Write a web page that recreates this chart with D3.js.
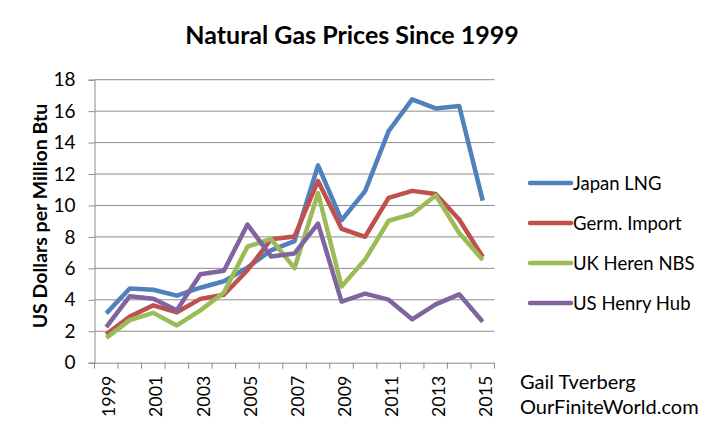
<!DOCTYPE html>
<html><head><meta charset="utf-8">
<script src="https://cdn.jsdelivr.net/npm/d3@7"></script>
<style>body{margin:0;background:#fff}svg{display:block}text{font-family:Lato,"Open Sans",sans-serif;fill:#000}</style>
</head><body><svg id="c" width="713" height="427"></svg>
<script>
const years = ["1999","2000","2001","2002","2003","2004","2005","2006","2007","2008","2009","2010","2011","2012","2013","2014","2015"];
const japanLNG = [3.14,4.72,4.64,4.27,4.77,5.18,6.05,7.14,7.73,12.55,9.06,10.91,14.73,16.75,16.17,16.33,10.31];
const germImport = [1.80,2.93,3.65,3.21,4.06,4.32,5.88,7.85,8.03,11.56,8.52,8.01,10.48,10.93,10.73,9.11,6.72];
const ukHeren = [1.58,2.71,3.17,2.37,3.33,4.46,7.38,7.87,6.01,10.79,4.85,6.56,9.03,9.46,10.64,8.25,6.53];
const usHenry = [2.27,4.23,4.07,3.33,5.63,5.85,8.79,6.76,6.95,8.85,3.89,4.39,4.01,2.76,3.71,4.35,2.60];
const seriesNames = ["Japan LNG","Germ. Import","UK Heren NBS","US Henry Hub"];
const colors = ["#4F81BD","#C0504D","#9BBB59","#8064A2"];
const yTicks = [0,2,4,6,8,10,12,14,16,18];
const xLabels = ["1999","2001","2003","2005","2007","2009","2011","2013","2015"];

const svg = d3.select("#c");
const L=94.5, R=494.5, T=79.7, B=362.7;
const x = d3.scaleBand().domain(years).range([L,R]);
const y = d3.scaleLinear().domain([0,18]).range([B,T]);

// gridlines
svg.append("g").selectAll("line").data(yTicks.filter(d=>d>0)).join("line")
  .attr("x1",L).attr("x2",R).attr("y1",d=>y(d)).attr("y2",d=>y(d))
  .attr("stroke","#8c8c8c").attr("stroke-width",1);

// y axis
const ya = svg.append("g").attr("transform",`translate(${L},0)`)
  .call(d3.axisLeft(y).tickValues(yTicks).tickSize(6).tickPadding(13));
ya.select(".domain").attr("stroke","#8c8c8c");
ya.selectAll(".tick line").attr("stroke","#8c8c8c");
ya.selectAll("text").attr("font-size",19).attr("font-family","Lato,sans-serif");

// x axis
const xa = svg.append("g").attr("transform",`translate(0,${B})`)
  .call(d3.axisBottom(x).tickValues(xLabels).tickSize(0).tickPadding(0));
xa.select(".domain").attr("stroke","#8c8c8c");
xa.selectAll("text").attr("font-size",17.8).attr("font-family","Lato,sans-serif")
  .attr("text-anchor","end").attr("transform","rotate(-90)").attr("dy","0.4em").attr("x",-13).attr("y",2);
svg.append("g").selectAll("line").data(d3.range(years.length+1)).join("line")
  .attr("x1",i=>L+i*x.step()).attr("x2",i=>L+i*x.step()).attr("y1",B).attr("y2",B+6)
  .attr("stroke","#8c8c8c");

// lines
const all = [japanLNG,germImport,ukHeren,usHenry];
const line = d3.line().x((d,i)=>x(years[i])+x.bandwidth()/2).y(d=>y(d));
svg.append("g").selectAll("path").data(all).join("path")
  .attr("d",d=>line(d)).attr("fill","none")
  .attr("stroke",(d,i)=>colors[i]).attr("stroke-width",4.5).attr("stroke-linejoin","round");

// legend
const lg = svg.append("g").selectAll("g").data(seriesNames).join("g")
  .attr("transform",(d,i)=>`translate(530,${183+i*40})`);
lg.append("line").attr("x1",0).attr("x2",41).attr("stroke",(d,i)=>colors[i]).attr("stroke-width",4.5).attr("stroke-linecap","round");
lg.append("text").attr("x",43).attr("dy","0.36em").attr("font-size",18.5).text(d=>d);

// title
svg.append("text").attr("x",352).attr("y",44).attr("text-anchor","middle")
  .attr("font-size",25).attr("font-weight","bold").text("Natural Gas Prices Since 1999");
// y label
svg.append("text").attr("transform",`translate(47,216) rotate(-90)`).attr("text-anchor","middle")
  .attr("font-size",19.5).attr("font-weight","bold").text("US Dollars per Million Btu");
// credit
svg.append("text").attr("x",520).attr("y",389).attr("font-size",20).text("Gail Tverberg");
svg.append("text").attr("x",520).attr("y",414).attr("font-size",20).text("OurFiniteWorld.com");
</script></body></html>
